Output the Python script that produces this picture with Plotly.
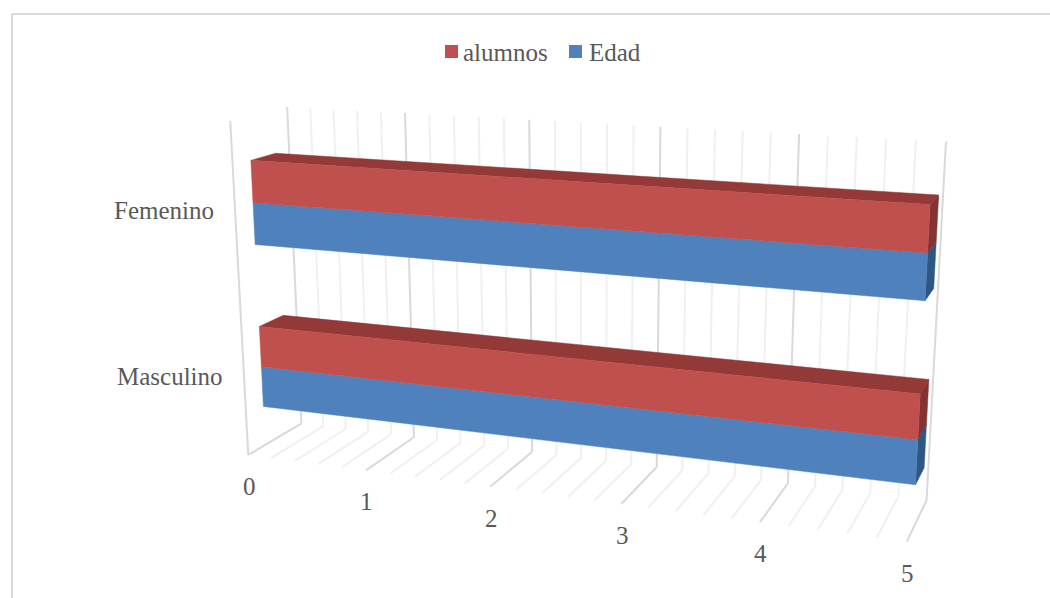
import numpy as np
import plotly.graph_objects as go

# ---- data ----
categories = ["Masculino", "Femenino"]
alumnos = [5, 5]
edad = [5, 5]
value_ticks = [0, 1, 2, 3, 4, 5]
minor_step = 0.2
axis_max = 5

# ---- colours ----
RED, RED_TOP, RED_END = "#C0504D", "#933937", "#833331"
BLUE, BLUE_END = "#4F81BD", "#2F5783"
GRID_MAJOR, GRID_MINOR = "#D9D9D9", "#F0F0F0"
TEXT = "#595959"
FONT = "Liberation Serif"
FONT_SIZE = 25

# ---- oblique view: world (value, depth, height) -> page pixels, fitted to the chart frame ----
frame_world = [(0,0,0),(5,0,0),(0,1,0),(5,1,0),(0,0,1),(0,1,1),(5,1,1)]
frame_page = [(248,455),(906.7,541.7),(301.7,423.3),(926.7,500),(230.7,120.7),(286.7,107.3),(946,141.7)]
rows = []
for (a,b,c),(u,v) in zip(frame_world, frame_page):
    rows.append([a,b,c,1,0,0,0,0,-u*a,-u*b,-u*c,-u])
    rows.append([0,0,0,0,a,b,c,1,-v*a,-v*b,-v*c,-v])
P = np.linalg.svd(np.array(rows, float))[2][-1].reshape(3,4)

def project(v, d, h):
    q = P @ np.array([v, d, h, 1.0])
    return q[0]/q[2], q[1]/q[2]

def face(pts):
    xy = [project(*p) for p in pts]
    return [q[0] for q in xy], [q[1] for q in xy]

fig = go.Figure()

# ---- gridlines: back wall + floor ----
def grid(values, color):
    xs, ys = [], []
    for val in values:
        for a, b in [((val,1,1),(val,1,0)), ((val,1,0),(val,0,0))]:
            p, q = project(*a), project(*b)
            xs += [p[0], q[0], None]; ys += [p[1], q[1], None]
    fig.add_trace(go.Scatter(x=xs, y=ys, mode="lines", line=dict(color=color, width=2),
                             hoverinfo="skip", showlegend=False))

n_minor = int(round(axis_max/minor_step))
minors = [i*minor_step for i in range(n_minor+1) if abs(i*minor_step-round(i*minor_step))>1e-6]
grid(minors, GRID_MINOR)
grid(value_ticks, GRID_MAJOR)
# side wall front edge
p, q = project(0,0,1), project(0,0,0)
fig.add_trace(go.Scatter(x=[p[0],q[0]], y=[p[1],q[1]], mode="lines", line=dict(color=GRID_MAJOR,width=2),
                         hoverinfo="skip", showlegend=False))

# ---- bars ----
D0, D1 = 0.31, 0.75
H_SHIFT = -0.003
n = len(categories)
cat_h = 1/n
bar_h = cat_h/4

def poly(xs, ys, color, name):
    fig.add_trace(go.Scatter(x=xs, y=ys, mode="lines", fill="toself", fillcolor=color,
                             line=dict(color=color, width=0.5), name=name, showlegend=False,
                             hoverinfo="name"))

for i, cat in enumerate(categories):
    lo = (i+0.5)*cat_h - bar_h + H_SHIFT
    mid = lo + bar_h
    hi = mid + bar_h
    ve, va = edad[i], alumnos[i]
    poly(*face([(ve,D0,lo),(ve,D1,lo),(ve,D1,mid),(ve,D0,mid),(ve,D0,lo)]), BLUE_END, "Edad")
    poly(*face([(0,D0,lo),(ve,D0,lo),(ve,D0,mid),(0,D0,mid),(0,D0,lo)]), BLUE, "Edad")
    poly(*face([(va,D0,mid),(va,D1,mid),(va,D1,hi),(va,D0,hi),(va,D0,mid)]), RED_END, "alumnos")
    poly(*face([(0,D0,hi),(va,D0,hi),(va,D1,hi),(0,D1,hi),(0,D0,hi)]), RED_TOP, "alumnos")
    poly(*face([(0,D0,mid),(va,D0,mid),(va,D0,hi),(0,D0,hi),(0,D0,mid)]), RED, "alumnos")

# ---- tick labels ----
annotations = []
for t in value_ticks:
    px_, py_ = project(t,0,0)
    annotations.append(dict(x=px_+1, y=py_+31.5, text=str(t), showarrow=False, xanchor="center", yanchor="middle",
                            font=dict(family=FONT, size=FONT_SIZE, color=TEXT)))
for i, cat in enumerate(categories):
    px_, py_ = project(0,0,(i+0.5)*cat_h)
    annotations.append(dict(x=px_-19, y=py_+(2.5 if i else 1.5), text=cat, showarrow=False, xanchor="right", yanchor="middle",
                            font=dict(family=FONT, size=FONT_SIZE, color=TEXT)))

# ---- legend ----
shapes = [
    dict(type="rect", xref="x", yref="y", x0=445, x1=458, y0=45, y1=58, fillcolor=RED, line=dict(width=0)),
    dict(type="rect", xref="x", yref="y", x0=569, x1=582, y0=45, y1=58, fillcolor=BLUE, line=dict(width=0)),
    dict(type="line", xref="x", yref="y", x0=12, x1=12, y0=598, y1=14, line=dict(color=GRID_MAJOR, width=2)),
    dict(type="line", xref="x", yref="y", x0=12, x1=1050, y0=14, y1=14, line=dict(color=GRID_MAJOR, width=2)),
]
annotations.append(dict(x=461, y=52, text="alumnos", showarrow=False, xanchor="left", yanchor="middle",
                        font=dict(family=FONT, size=FONT_SIZE, color=TEXT)))
annotations.append(dict(x=587, y=52, text="Edad", showarrow=False, xanchor="left", yanchor="middle",
                        font=dict(family=FONT, size=FONT_SIZE, color=TEXT)))

fig.update_layout(width=1050, height=598, margin=dict(l=0,r=0,t=0,b=0),
                  paper_bgcolor="white", plot_bgcolor="white", showlegend=False,
                  xaxis=dict(range=[0,1050], visible=False, fixedrange=True),
                  yaxis=dict(range=[598,0], visible=False, fixedrange=True),
                  shapes=shapes, annotations=annotations)
fig.write_html("out.html", config=dict(displayModeBar=False),
               post_script="document.body.style.margin='0';document.body.style.overflow='hidden';")
